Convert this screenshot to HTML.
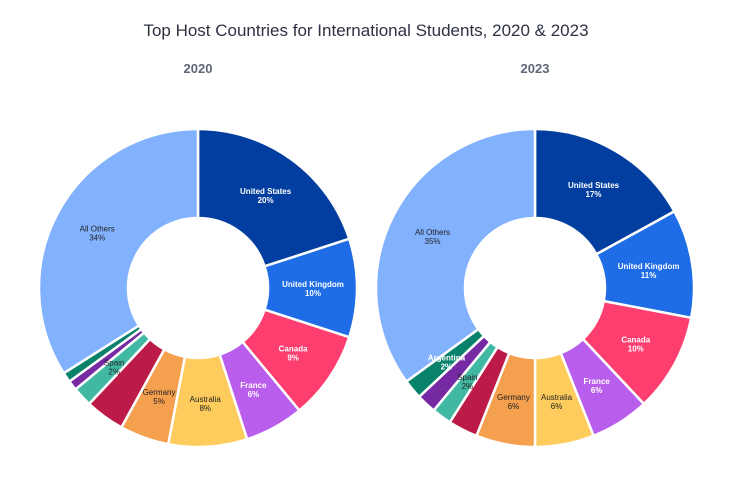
<!DOCTYPE html>
<html><head><meta charset="utf-8"><style>
body{margin:0;background:#fff;width:731px;height:494px;overflow:hidden;font-family:"Liberation Sans",sans-serif}
</style></head><body>
<svg id="s" width="731" height="494" viewBox="0 0 731 494" xmlns="http://www.w3.org/2000/svg">
<text x="366" y="36" text-anchor="middle" font-size="17" fill="#2d3142" font-family="Liberation Sans, sans-serif">Top Host Countries for International Students, 2020 &amp; 2023</text>
<text x="198" y="73" text-anchor="middle" font-size="13" font-weight="bold" fill="#5f6675">2020</text>
<text x="535" y="73" text-anchor="middle" font-size="13" font-weight="bold" fill="#5f6675">2023</text>
<g id="g"></g>
</svg>
<script>
var C={us:"#023ea0",uk:"#1e6ce6",ca:"#fd3e6f",fr:"#b95ded",au:"#fecc5c",de:"#f5a04e",cr:"#bc1b48",sp:"#41b8a2",pu:"#7529a3",gr:"#08826b",ot:"#82b2fd"};
var W={us:1,uk:1,ca:1,fr:1,gr:1};
function donut(cx,cy,data){
 var ro=159,ri=70,a=0,h="",t="";
 var tot=data.reduce(function(s,d){return s+d[1]},0);
 data.forEach(function(d){
  var a0=a,a1=a+d[1]/tot*2*Math.PI;a=a1;
  function p(r,q){return [cx+r*Math.sin(q),cy-r*Math.cos(q)]}
  var A=p(ro,a0),B=p(ro,a1),Cc=p(ri,a1),D=p(ri,a0),lg=(a1-a0)>Math.PI?1:0;
  h+='<path d="M'+A+' A'+ro+','+ro+' 0 '+lg+' 1 '+B+' L'+Cc+' A'+ri+','+ri+' 0 '+lg+' 0 '+D+' Z" fill="'+C[d[0]]+'" stroke="#fff" stroke-width="2.5" stroke-linejoin="round"/>';
  if(d[2]){var m=(a0+a1)/2,L=p(115,m),col=W[d[0]]?"#fff":"#222",fw=W[d[0]]?"bold":"normal";
   t+='<text x="'+L[0]+'" y="'+(L[1]-1)+'" text-anchor="middle" font-size="8" font-weight="'+fw+'" fill="'+col+'">'+d[2]+'</text>';
   t+='<text x="'+L[0]+'" y="'+(L[1]+8)+'" text-anchor="middle" font-size="8" font-weight="'+fw+'" fill="'+col+'">'+d[3]+'</text>';}
 });
 return h+t;
}
var g=document.getElementById("g");
g.innerHTML=donut(198,288,[["us",20,"United States","20%"],["uk",10,"United Kingdom","10%"],["ca",9,"Canada","9%"],["fr",6,"France","6%"],["au",8,"Australia","8%"],["de",5,"Germany","5%"],["cr",4],["sp",2,"Spain","2%"],["pu",1],["gr",1],["ot",34,"All Others","34%"]])
+donut(535,288,[["us",17,"United States","17%"],["uk",11,"United Kingdom","11%"],["ca",10,"Canada","10%"],["fr",6,"France","6%"],["au",6,"Australia","6%"],["de",6,"Germany","6%"],["cr",3],["sp",2,"Spain","2%"],["pu",2],["gr",2,"Argentina","2%"],["ot",35,"All Others","35%"]]);
</script>
</body></html>
